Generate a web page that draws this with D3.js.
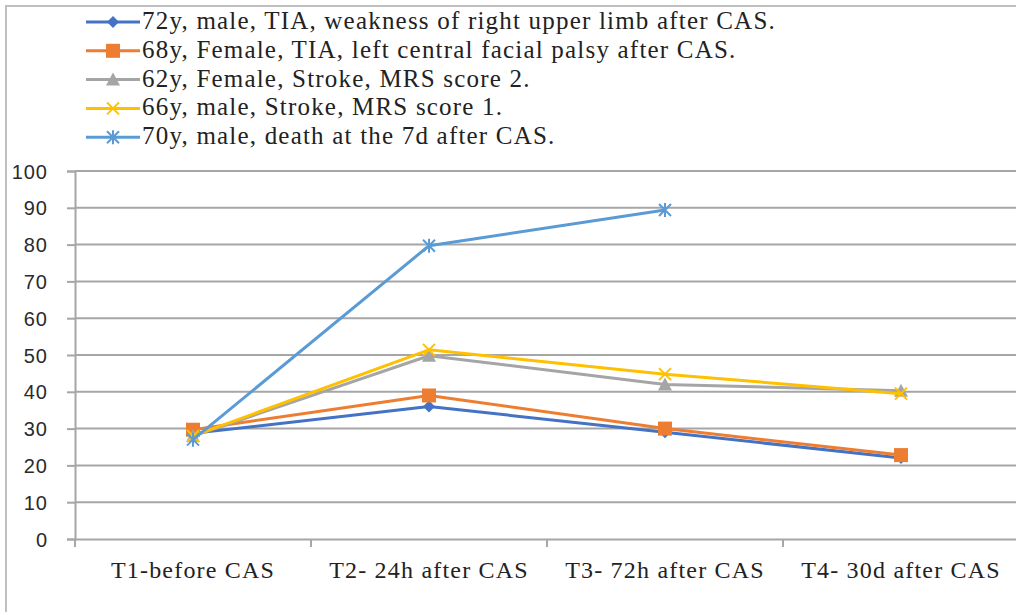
<!DOCTYPE html>
<html>
<head>
<meta charset="UTF-8">
<script src="https://cdn.jsdelivr.net/npm/d3@7"></script>
<style>
  @font-face {
    font-family: "ChartSerif";
    src: local("Liberation Serif"), local("LiberationSerif"), local("Liberation Serif Regular"), local("LiberationSerif-Regular");
  }
</style>
</head>
<body style="margin:0">
<script>
// data
const categories = ["T1-before CAS", "T2- 24h after CAS", "T3- 72h after CAS", "T4- 30d after CAS"];
const seriesNames = [
  "72y, male, TIA, weakness of right upper limb after CAS.",
  "68y, Female, TIA, left central facial palsy after CAS.",
  "62y, Female, Stroke, MRS score 2.",
  "66y, male, Stroke, MRS score 1.",
  "70y, male, death at the 7d after CAS."
];
const s1 = [28.7, 36, 29, 22];
const s2 = [29.7, 39, 30, 22.8];
const s3 = [28, 49.8, 42, 40.3];
const s4 = [28, 51.4, 44.8, 39.5];
const s5 = [27, 79.7, 89.4, null];
const yTicks = [0, 10, 20, 30, 40, 50, 60, 70, 80, 90, 100];

const colors = ["#4472C4", "#ED7D31", "#A5A5A5", "#FFC000", "#5B9BD5"];
const markers = ["diamond", "square", "triangle", "x", "star"];
const allSeries = [s1, s2, s3, s4, s5];

const W = 1016, H = 612;
const serifFont = '"Liberation Serif", ChartSerif, "Times New Roman", Tinos, Times, serif';
const margin = { top: 171, right: -3, bottom: 73, left: 75 };

const svg = d3.select("body").append("svg")
  .attr("width", W).attr("height", H);

// outer frame
svg.append("rect")
  .attr("x", 6).attr("y", 6)
  .attr("width", W + 20).attr("height", H + 20)
  .attr("fill", "none").attr("stroke", "#bfbfbf").attr("stroke-width", 2);

const x = d3.scaleBand().domain(categories).range([margin.left, W - margin.right]);
const y = d3.scaleLinear().domain([0, 100]).range([H - margin.bottom, margin.top]);

function drawMarker(g, type, color, cx, cy) {
  const m = g.append("g").attr("transform", `translate(${cx},${cy})`);
  if (type === "diamond") {
    m.append("path").attr("d", "M0,-6L6,0L0,6L-6,0Z").attr("fill", color);
  } else if (type === "square") {
    m.append("rect").attr("x", -7).attr("y", -7).attr("width", 14).attr("height", 14).attr("fill", color);
  } else if (type === "triangle") {
    m.append("path").attr("d", "M0,-7L7,6L-7,6Z").attr("fill", color);
  } else if (type === "x") {
    m.append("path").attr("d", "M-6,-6L6,6M-6,6L6,-6")
      .attr("stroke", color).attr("stroke-width", 2);
  } else if (type === "star") {
    m.append("path").attr("d", "M-6,-6L6,6M-6,6L6,-6M0,-7L0,7")
      .attr("stroke", color).attr("stroke-width", 2);
  }
}

// legend (drawn first)
const legend = svg.append("g");
seriesNames.forEach((name, i) => {
  const ly = 22 + i * 28.8;
  legend.append("line")
    .attr("x1", 86).attr("x2", 140)
    .attr("y1", ly).attr("y2", ly)
    .attr("stroke", colors[i]).attr("stroke-width", 3);
  drawMarker(legend, markers[i], colors[i], 113, ly);
  legend.append("text")
    .attr("x", 142).attr("y", ly + 7)
    .style("font-family", serifFont)
    .style("font-size", "25px")
    .style("letter-spacing", "1.2px")
    .attr("fill", "#222")
    .text(name);
});

// gridlines
svg.append("g").selectAll("line")
  .data(yTicks.filter(d => d > 0))
  .enter().append("line")
  .attr("x1", margin.left).attr("x2", W)
  .attr("y1", d => y(d)).attr("y2", d => y(d))
  .attr("stroke", "#a6a6a6").attr("stroke-width", 2);

// x axis
const xAxis = svg.append("g")
  .attr("transform", `translate(0,${y(0)})`)
  .call(d3.axisBottom(x).tickSize(0).tickPadding(0));
xAxis.attr("font-family", null).attr("font-size", null);
xAxis.select(".domain").attr("stroke", "#a6a6a6").attr("stroke-width", 2);
xAxis.selectAll(".tick text")
  .attr("y", 39).attr("dy", null)
  .style("font-family", serifFont)
  .style("font-size", "24px")
  .style("letter-spacing", "1.2px")
  .attr("fill", "#222");
// boundary ticks between categories
svg.append("g").selectAll("line")
  .data(categories.concat([null]))
  .enter().append("line")
  .attr("x1", (d, i) => margin.left + i * x.step())
  .attr("x2", (d, i) => margin.left + i * x.step())
  .attr("y1", y(0)).attr("y2", y(0) + 8)
  .attr("stroke", "#a6a6a6").attr("stroke-width", 2);

// y axis
const yAxis = svg.append("g")
  .attr("transform", `translate(${margin.left},0)`)
  .call(d3.axisLeft(y).tickValues(yTicks).tickSize(8).tickPadding(0));
yAxis.attr("font-family", null).attr("font-size", null);
yAxis.select(".domain").attr("stroke", "#a6a6a6").attr("stroke-width", 2);
yAxis.selectAll(".tick line").attr("stroke", "#a6a6a6").attr("stroke-width", 2);
yAxis.selectAll(".tick text")
  .attr("x", -27).attr("dy", 7)
  .attr("text-anchor", "end")
  .style("font-family", '"Liberation Sans", Arial, sans-serif')
  .style("font-size", "20px")
  .style("letter-spacing", "1px")
  .attr("fill", "#2a2a2a");

const line = d3.line()
  .defined(d => d != null)
  .x((d, i) => x(categories[i]) + x.bandwidth() / 2)
  .y(d => y(d));

allSeries.forEach((vals, si) => {
  const g = svg.append("g");
  g.append("path")
    .datum(vals)
    .attr("d", line)
    .attr("fill", "none")
    .attr("stroke", colors[si])
    .attr("stroke-width", 3)
    .attr("stroke-linejoin", "round");
  vals.forEach((v, i) => {
    if (v == null) return;
    drawMarker(g, markers[si], colors[si], x(categories[i]) + x.bandwidth() / 2, y(v));
  });
});
</script>
</body>
</html>
